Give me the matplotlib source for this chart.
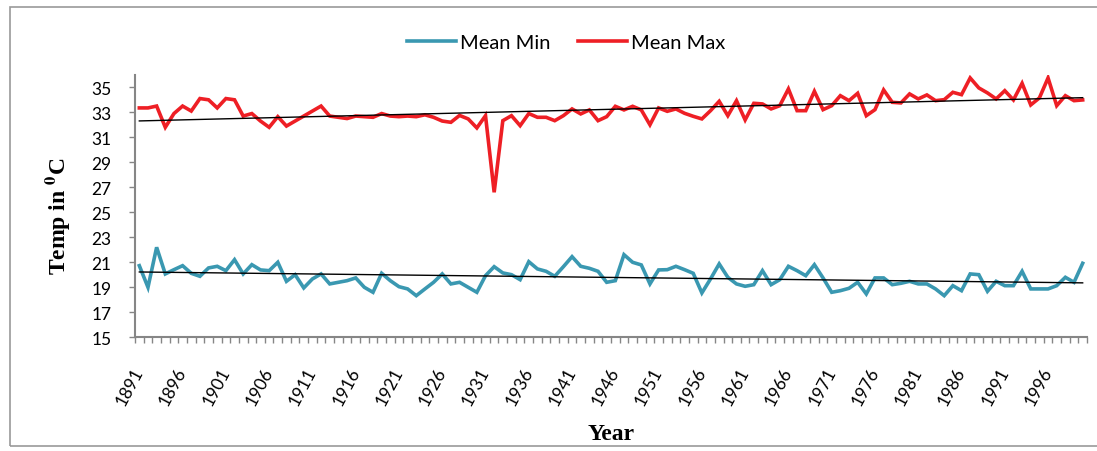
import numpy as np
import matplotlib.pyplot as plt
from matplotlib.patches import Rectangle

years = list(range(1891, 2001))

mean_max = [33.35, 33.35, 33.5, 31.8, 32.9, 33.5, 33.1, 34.1, 34.0, 33.35,
            34.1, 34.0, 32.7, 32.9, 32.3, 31.8, 32.65, 31.9, 32.3, 32.7,
            33.1, 33.5, 32.7, 32.6, 32.5, 32.7, 32.65, 32.6, 32.9, 32.7,
            32.65, 32.7, 32.65, 32.8, 32.6, 32.3, 32.2, 32.75, 32.47, 31.75,
            32.73, 26.6, 32.33, 32.73, 31.93, 32.9, 32.6, 32.6, 32.33, 32.73,
            33.27, 32.87, 33.19, 32.33, 32.65, 33.48, 33.19, 33.48, 33.19, 32.0,
            33.35, 33.08, 33.27, 32.92, 32.68, 32.47, 33.13, 33.88, 32.73, 33.93,
            32.39, 33.72, 33.67, 33.27, 33.53, 34.87, 33.13, 33.13, 34.68, 33.21,
            33.53, 34.33, 33.93, 34.52, 32.73, 33.21, 34.79, 33.8, 33.75, 34.47,
            34.07, 34.39, 33.93, 34.01, 34.6, 34.41, 35.75, 34.95, 34.55, 34.07,
            34.73, 33.99, 35.32, 33.59, 34.15, 35.75, 33.53, 34.33, 33.93, 33.99]

mean_min = [20.73, 19.0, 22.2, 20.07, 20.41, 20.73, 20.12, 19.88, 20.55, 20.68,
            20.33, 21.21, 20.07, 20.81, 20.39, 20.33, 21.0, 19.48, 20.01, 18.95,
            19.67, 20.07, 19.27, 19.4, 19.53, 19.75, 19.0, 18.6, 20.12, 19.53,
            19.05, 18.87, 18.33, 18.87, 19.4, 20.07, 19.27, 19.4, 19.0, 18.6,
            19.93, 20.65, 20.15, 20.01, 19.61, 21.05, 20.47, 20.28, 19.88, 20.65,
            21.45, 20.68, 20.52, 20.28, 19.4, 19.53, 21.61, 21.0, 20.79, 19.27,
            20.39, 20.41, 20.68, 20.41, 20.12, 18.55, 19.67, 20.87, 19.8, 19.27,
            19.08, 19.21, 20.33, 19.21, 19.61, 20.68, 20.33, 19.93, 20.81, 19.75,
            18.6, 18.73, 18.92, 19.4, 18.47, 19.75, 19.75, 19.21, 19.32, 19.48,
            19.27, 19.27, 18.87, 18.33, 19.13, 18.73, 20.07, 20.01, 18.68, 19.48,
            19.13, 19.13, 20.28, 18.87, 18.87, 18.87, 19.13, 19.8, 19.4, 20.92]

teal = '#3a98b1'
red = '#ee1f25'
grey = '#868686'

fig = plt.figure(figsize=(10.97, 4.52), dpi=100)
W, H = 1097, 452
ax = fig.add_axes([135 / W, 1 - 338.3 / H, (1087 - 135) / W, (338.3 - 75.8) / H])

x = np.arange(len(years))
ax.plot(x, mean_min, color=teal, lw=2.6, label='Mean Min', solid_joinstyle='miter')
ax.plot(x, mean_max, color=red, lw=2.6, label='Mean Max', solid_joinstyle='miter')

# linear trend lines
for s in (mean_min, mean_max):
    k, b = np.polyfit(x, s, 1)
    ax.plot([x[0], x[-1]], [k * x[0] + b, k * x[-1] + b], color='black', lw=1.0)

ax.set_xlim(-0.5, len(years) - 0.5)
ax.set_ylim(15, 36)
ax.set_yticks(range(15, 36, 2))

ax.set_xticks(x[::5])
ax.set_xticklabels([str(y) for y in years[::5]], rotation=62, ha='right',
                   va='center', rotation_mode='anchor', fontsize=12.5, family='Lato')
ax.set_xticks(np.arange(-0.5, len(years), 1), minor=True)
ax.tick_params(axis='x', which='major', length=0, pad=22)
ax.tick_params(axis='x', which='minor', length=4, width=1, color=grey, direction='out')
ax.tick_params(axis='y', length=4, width=1, color=grey, pad=13, labelsize=12.5)
for t in ax.get_yticklabels():
    t.set_family('Lato')

for side in ('top', 'right'):
    ax.spines[side].set_visible(False)
for side in ('left', 'bottom'):
    ax.spines[side].set_color(grey)
    ax.spines[side].set_linewidth(1.5)

plt.rcParams['mathtext.fontset'] = 'stix'
fig.text(57 / W, 1 - 216 / H, r'Temp in $\mathbf{^{0}}$C', rotation=90, ha='center', va='center',
         family='Liberation Serif', fontweight='bold', fontsize=17)
fig.text(611 / W, 1 - 435 / H, 'Year', ha='center', va='center',
         family='Liberation Serif', fontweight='bold', fontsize=17)

fig.legend(loc='center', bbox_to_anchor=(566 / W, 1 - 43 / H), ncol=2, frameon=False,
           prop={'family': 'Lato', 'size': 14.5}, handlelength=2.4, handletextpad=0.2,
           columnspacing=1.4)

# chart frame
fig.patches.append(Rectangle((10 / W, 1 - 447 / H), 1.1, (447 - 8) / H, transform=fig.transFigure,
                             fill=False, edgecolor='#999999', lw=1.2))

fig.savefig('out.png', dpi=100)
